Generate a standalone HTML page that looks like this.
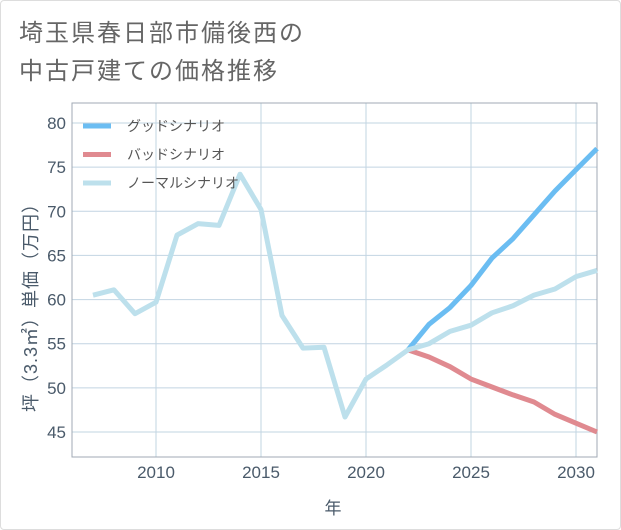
<!DOCTYPE html>
<html><head><meta charset="utf-8"><style>
html,body{margin:0;padding:0;background:#fff;}
body{width:621px;height:530px;overflow:hidden;font-family:"Liberation Sans","Noto Sans CJK JP",sans-serif;}
.card{position:absolute;left:0;top:0;width:619px;height:528px;border:1px solid #ddd;border-radius:4px;background:#fff;}
.title{position:absolute;left:18px;top:14px;font-size:24px;line-height:38px;color:#666;letter-spacing:2px;font-family:"Liberation Sans","Noto Sans CJK JP",sans-serif;}
</style></head><body>
<div class="card">
<div class="title">埼玉県春日部市備後西の<br>中古戸建ての価格推移</div>
</div>
<svg id="chart" width="621" height="530" style="position:absolute;left:0;top:0"></svg>
<script>
const years=[2007,2008,2009,2010,2011,2012,2013,2014,2015,2016,2017,2018,2019,2020,2021,2022,2023,2024,2025,2026,2027,2028,2029,2030,2031];
const normalValues=[60.5,61.1,58.4,59.7,67.3,68.6,68.4,74.2,70.2,58.2,54.5,54.6,46.7,51.0,52.6,54.3,55.0,56.4,57.1,58.5,59.3,60.5,61.2,62.6,63.3];
const goodYears=[2022,2023,2024,2025,2026,2027,2028,2029,2030,2031];
const goodValues=[54.3,57.2,59.1,61.6,64.7,66.9,69.6,72.3,74.7,77.1];
const badValues=[54.3,53.5,52.4,51.0,50.1,49.2,48.4,47.0,46.0,45.0];
const xTicks=[2010,2015,2020,2025,2030];
const yTicks=[45,50,55,60,65,70,75,80];
const legendLabels=["グッドシナリオ","バッドシナリオ","ノーマルシナリオ"];

const L=72,R=597,T=103,B=457;
const X=y=>156+(y-2010)*21;
const Y=v=>123+(80-v)*(309/35);
const svg=document.getElementById('chart');
const NS='http://www.w3.org/2000/svg';
function mk(tag,attrs){const e=document.createElementNS(NS,tag);for(const k in attrs)e.setAttribute(k,attrs[k]);svg.appendChild(e);return e;}

for(const t of yTicks){
  const g=mk('line',{x1:L,x2:R,y1:Y(t),y2:Y(t),stroke:'#c2d4e2','stroke-width':1});
  
  
  const tx=mk('text',{x:L-6,y:Y(t)+6,'text-anchor':'end','font-size':17,fill:'#4a5a6a'});
  tx.textContent=t;
  
  
}
for(const t of xTicks){
  const g=mk('line',{x1:X(t),x2:X(t),y1:T,y2:B,stroke:'#c2d4e2','stroke-width':1});
  
  
  const tx=mk('text',{x:X(t),y:B+21,'text-anchor':'middle','font-size':17,fill:'#4a5a6a'});
  tx.textContent=t;
  
  
}
const frame=mk('rect',{x:L,y:T,width:R-L,height:B-T,fill:'none',stroke:'#a0aab4','stroke-width':1});



function line(xs,vs,color,name){
  const p=mk('polyline',{points:xs.map((x,i)=>X(x)+','+Y(vs[i])).join(' '),fill:'none',stroke:color,'stroke-width':5,'stroke-linejoin':'round'});
  
  
}
line(goodYears,badValues,'#e08a90','bad-scenario-line');
line(goodYears,goodValues,'#6bbdf2','good-scenario-line');
line(years,normalValues,'#bde0ec','normal-scenario-line');

const colors=['#6bbdf2','#e08a90','#bde0ec'];
legendLabels.forEach((lab,i)=>{
  const y=126+i*28.5;
  const s=mk('line',{x1:83,x2:111,y1:y,y2:y,stroke:colors[i],'stroke-width':5});
  
  
  const t=mk('text',{x:127,y:y+5,'font-size':14,fill:'#555'});
  t.textContent=lab;
  
  
});

const yt=mk('text',{x:0,y:0,'font-size':18,'letter-spacing':1,fill:'#4a5a6a','text-anchor':'middle',transform:'translate(37,303) rotate(-90)'});
yt.textContent='坪（3.3㎡）単価（万円）';


const xt=mk('text',{x:333,y:514,'font-size':17,fill:'#4a5a6a','text-anchor':'middle'});
xt.textContent='年';


</script>
</body></html>
